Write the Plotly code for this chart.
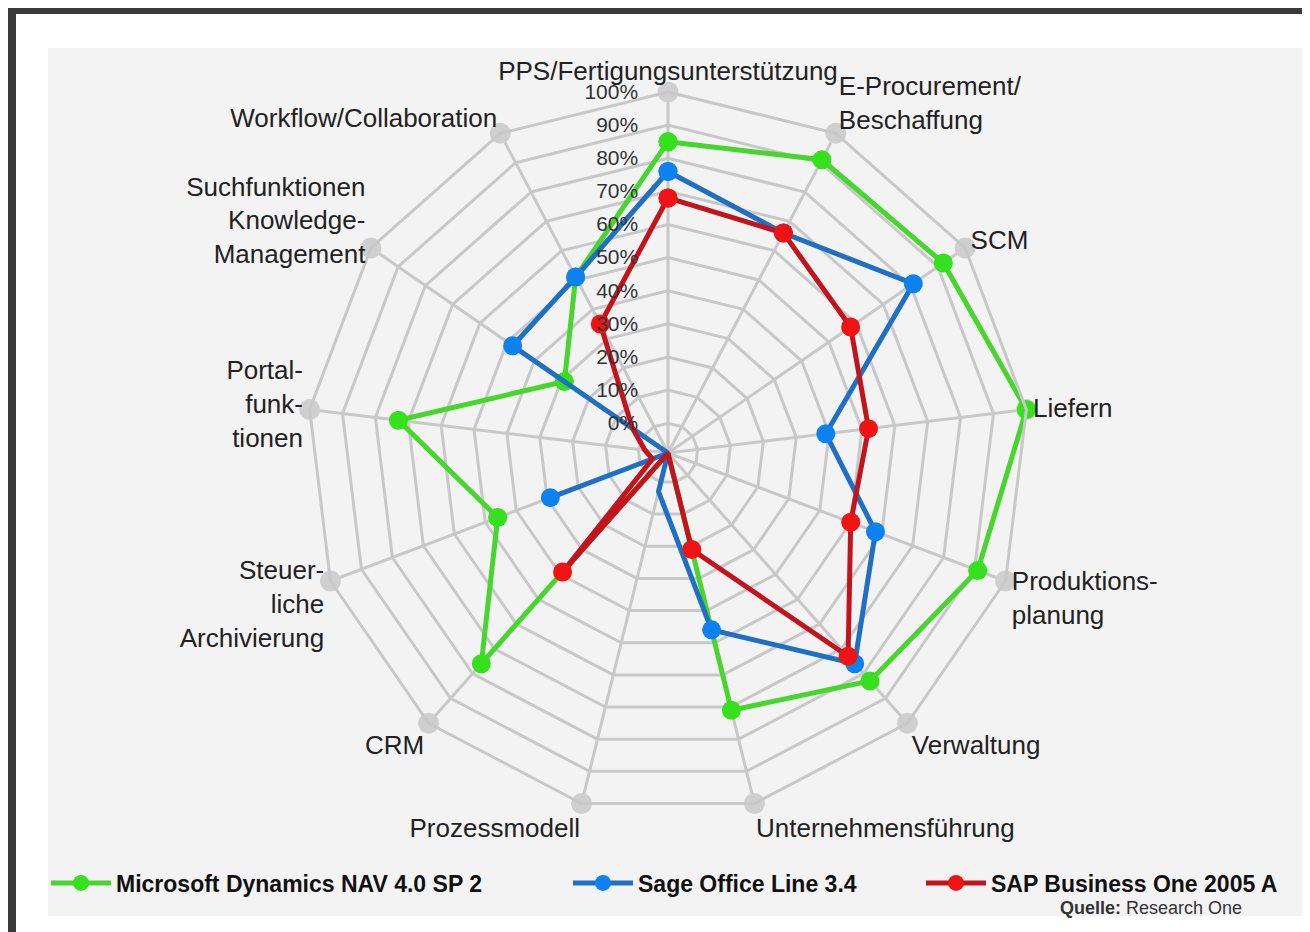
import plotly.graph_objects as go

# ---- data -------------------------------------------------------------
categories = [
    "PPS/Fertigungsunterstützung",
    "E-Procurement/<br>Beschaffung",
    "SCM",
    "Liefern",
    "Produktions-<br>planung",
    "Verwaltung",
    "Unternehmensführung",
    "Prozessmodell",
    "CRM",
    "Steuer-<br>liche<br>Archivierung",
    "Portal-<br>funk-<br>tionen",
    "Suchfunktionen<br>Knowledge-<br>Management",
    "Workflow/Collaboration",
]

series_names = [
    "Microsoft Dynamics NAV 4.0 SP 2",
    "Sage Office Line 3.4",
    "SAP Business One 2005 A",
]

microsoft_values = [85, 91, 92, 100, 91, 83, 71, -9, 76, 46, 73, 29, 51]
sage_values = [76, 66, 81, 39, 58, 76, 46, 3, -9, 29, -9, 48, 51]
sap_values = [68, 66, 58, 52, 50, 73, 21, -9, 39, -4, -2, 4, 35]
outer_values = [100, 100, 100, 100, 100, 100, 100, 100, 100, 100, 100, 100, 100]

tick_values = [0, 10, 20, 30, 40, 50, 60, 70, 80, 90, 100]
tick_labels = ["0%", "10%", "20%", "30%", "40%", "50%", "60%", "70%", "80%", "90%", "100%"]

# ---- styles -----------------------------------------------------------
line_colors = ["#46d62e", "#1f6fc2", "#c3141d"]
marker_colors = ["#35e01c", "#0c82f0", "#ee1414"]
legend_ids = ["legend", "legend2", "legend3"]
legend_x = [38, 560, 913]
W, H = 1310, 932

fig = go.Figure()

fig.add_trace(go.Scatterpolar(
    r=outer_values, theta=categories, mode="markers",
    marker=dict(size=21, color="#cfcfcf"), showlegend=False, hoverinfo="skip",
))

for name, vals, lc, mc, lid in zip(series_names, [microsoft_values, sage_values, sap_values],
                                   line_colors, marker_colors, legend_ids):
    fig.add_trace(go.Scatterpolar(
        r=vals + vals[:1], theta=categories + categories[:1],
        mode="lines+markers", name="<b>" + name + "</b>", legend=lid,
        line=dict(color=lc, width=5),
        marker=dict(size=19, color=mc),
    ))

legend_style = dict(
    orientation="h", y=1 - 875 / H, xanchor="left", yanchor="middle",
    font=dict(size=23, family="Liberation Sans", color="#111111"),
    bgcolor="rgba(0,0,0,0)", itemwidth=60,
)

cx, cy, R = 660, 445, 361
fig.update_layout(
    width=W, height=H,
    margin=dict(l=0, r=0, t=0, b=0),
    paper_bgcolor="#ffffff",
    plot_bgcolor="#ffffff",
    font=dict(family="Liberation Sans", color="#222222"),
    polar=dict(
        domain=dict(x=[(cx - R) / W, (cx + R) / W], y=[1 - (cy + R) / H, 1 - (cy - R) / H]),
        bgcolor="rgba(0,0,0,0)",
        gridshape="linear",
        angularaxis=dict(
            rotation=90, direction="clockwise",
            gridcolor="#c8c8c8", gridwidth=3,
            showline=True, linecolor="#c8c8c8", linewidth=3,
            ticks="", tickfont=dict(size=26, family="Liberation Sans", color="#222222"),
        ),
        radialaxis=dict(
            range=[-9, 100], angle=90, side="counterclockwise",
            tickvals=tick_values, ticktext=tick_labels, tickangle=90,
            ticks="outside", ticklen=22, tickcolor="rgba(0,0,0,0)",
            gridcolor="#c8c8c8", gridwidth=3, showline=False,
            tickfont=dict(size=21, family="Liberation Sans", color="#333333"),
        ),
    ),
    legend=dict(x=legend_x[0] / W, **legend_style),
    legend2=dict(x=legend_x[1] / W, **legend_style),
    legend3=dict(x=legend_x[2] / W, **legend_style),
    shapes=[
        dict(type="rect", xref="paper", yref="paper", x0=0, x1=1, y0=0, y1=1,
             fillcolor="#3a3a3a", line=dict(width=0), layer="below"),
        dict(type="rect", xref="paper", yref="paper", x0=8 / W, x1=1, y0=0, y1=1 - 6 / H,
             fillcolor="#ffffff", line=dict(width=0), layer="below"),
        dict(type="rect", xref="paper", yref="paper", x0=40 / W, x1=1300 / W,
             y0=1 - 908 / H, y1=1 - 40 / H,
             fillcolor="#f3f3f3", line=dict(width=0), layer="below"),
    ],
    annotations=[
        dict(text="<b>Quelle:</b> Research One", xref="paper", yref="paper",
             x=1050 / W, y=1 - 900 / H, xanchor="left", yanchor="middle",
             showarrow=False, font=dict(size=18, family="Liberation Sans", color="#333333")),
    ],
)

fig.write_html("out.html")
